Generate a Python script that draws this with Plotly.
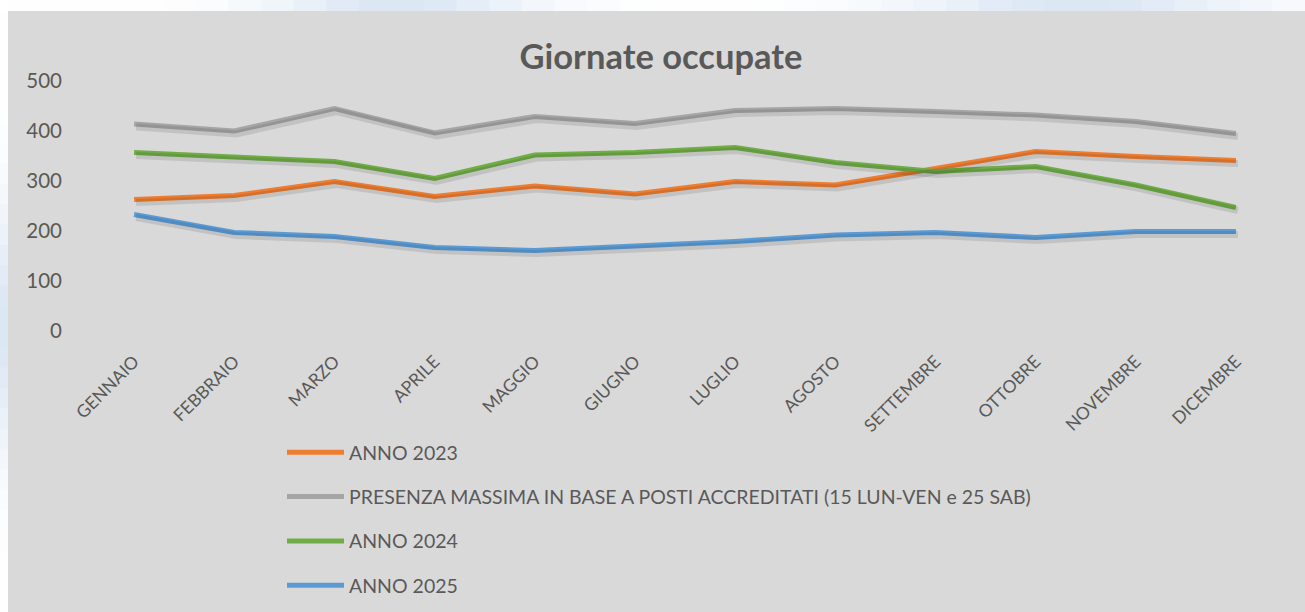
import math
import plotly.graph_objects as go

months = ["GENNAIO", "FEBBRAIO", "MARZO", "APRILE", "MAGGIO", "GIUGNO",
          "LUGLIO", "AGOSTO", "SETTEMBRE", "OTTOBRE", "NOVEMBRE", "DICEMBRE"]

anno_2023 = [263, 271, 299, 269, 290, 274, 299, 292, 325, 359, 349, 341]
presenza_massima = [414, 400, 445, 396, 429, 415, 441, 445, 439, 432, 419, 395]
anno_2024 = [357, 347, 339, 305, 352, 357, 367, 337, 319, 329, 292, 247]
anno_2025 = [233, 197, 189, 167, 161, 169, 179, 192, 197, 187, 199, 199]

series_names = ["ANNO 2023",
                "PRESENZA MASSIMA IN BASE A POSTI ACCREDITATI (15 LUN-VEN e 25 SAB)",
                "ANNO 2024", "ANNO 2025"]
series_values = [anno_2023, presenza_massima, anno_2024, anno_2025]
series_colors = ["#ed7d31", "#a5a5a5", "#70ad47", "#5b9bd5"]

y_ticks = [0, 100, 200, 300, 400, 500]

W, H = 1305, 612
# main plot area in pixels: x 84..1286, y 81..331
SX, SY = 2, 3  # shadow offset in px
ML, MT = 84, 81
PW, PH = 1202, 250
PWt, PHt = PW + SX, PH + SY
MR = W - ML - PWt
MB = H - MT - PHt
FONT = "Lato, 'Open Sans', sans-serif"
TXT = "#595959"

fig = go.Figure()

# soft shadows (same data on a slightly shifted invisible subplot)
for vals in series_values:
    fig.add_trace(go.Scatter(x=months, y=vals, mode="lines", xaxis="x2", yaxis="y2",
                             line=dict(color="rgba(0,0,0,0.10)", width=7),
                             hoverinfo="skip", showlegend=False))

for i, (name, vals, col) in enumerate(zip(series_names, series_values, series_colors)):
    fig.add_trace(go.Scatter(x=months, y=vals, mode="lines", name=name,
                             legendgroup=f"g{i}",
                             line=dict(color=col, width=5)))


def px_x(p):
    return (p - ML) / PWt


def px_y(p):
    return (H - MB - p) / PHt


def grad(t, peaks):
    w = 0.0
    for c, s in peaks:
        w = max(w, math.exp(-((t - c) / s) ** 2))
    r1, g1, b1 = 0xdc, 0xe7, 0xf4
    return "rgb(%d,%d,%d)" % (255 + (r1 - 255) * w, 255 + (g1 - 255) * w, 255 + (b1 - 255) * w)


shapes = []
seg = 40
for k in range(seg):
    a, b = k * W / seg, (k + 1) * W / seg
    c = grad((a + b) / 2, [(400, 130), (1080, 170)])
    shapes.append(dict(type="rect", xref="paper", yref="paper", layer="below",
                       x0=px_x(a), x1=px_x(b + 1), y0=px_y(0), y1=px_y(11),
                       fillcolor=c, line=dict(width=0)))
segv = 30
for k in range(segv):
    a, b = k * H / segv, (k + 1) * H / segv
    c = grad((a + b) / 2, [(330, 120)])
    shapes.append(dict(type="rect", xref="paper", yref="paper", layer="below",
                       x0=px_x(0), x1=px_x(8), y0=px_y(max(a, 11)), y1=px_y(b + 1),
                       fillcolor=c, line=dict(width=0)))
shapes.append(dict(type="rect", xref="paper", yref="paper", layer="below",
                   x0=px_x(0), x1=px_x(8), y0=px_y(0), y1=px_y(11),
                   fillcolor="#ffffff", line=dict(width=0)))

fig.update_layout(
    width=W, height=H,
    margin=dict(l=ML, r=MR, t=MT, b=MB, pad=0, autoexpand=False),
    paper_bgcolor="#d9d9d9",
    plot_bgcolor="rgba(0,0,0,0)",
    font=dict(family=FONT, color=TXT, size=16),
    title=dict(text="<b>Giornate occupate</b>", x=661 / W, xref="container",
               xanchor="center", y=1 - 57 / H, yref="container", yanchor="middle",
               font=dict(family=FONT, size=34.5, color=TXT)),
    xaxis=dict(type="category", categoryorder="array", categoryarray=months,
               range=[-0.5, 11.5], domain=[0, PW / PWt], anchor="y",
               showgrid=False, zeroline=False, showline=False,
               ticks="", tickangle=-45, tickfont=dict(size=17.5, color=TXT),
               ticklabelstandoff=16, fixedrange=True, automargin=False),
    yaxis=dict(range=[0, 500], tickvals=y_ticks, domain=[SY / PHt, 1], anchor="x",
               showgrid=False, zeroline=False,
               showline=False, ticks="", tickfont=dict(size=20.5, color=TXT),
               ticklabelstandoff=21, fixedrange=True, automargin=False),
    xaxis2=dict(type="category", categoryorder="array", categoryarray=months,
                range=[-0.5, 11.5], domain=[SX / PWt, 1], anchor="y2", visible=False),
    yaxis2=dict(range=[0, 500], domain=[0, PH / PHt], anchor="x2", visible=False),
    showlegend=True,
    legend=dict(x=px_x(282), xanchor="left", y=px_y(433), yanchor="top",
                orientation="v", traceorder="grouped", tracegroupgap=16,
                bgcolor="rgba(0,0,0,0)", font=dict(family=FONT, size=19.5, color=TXT),
                itemwidth=57),
    shapes=shapes,
    hovermode=False,
)

fig.write_html("out.html",
               config={"displayModeBar": False, "staticPlot": False},
               post_script="document.body.style.margin='0';"
                           "document.body.style.overflow='hidden';")
